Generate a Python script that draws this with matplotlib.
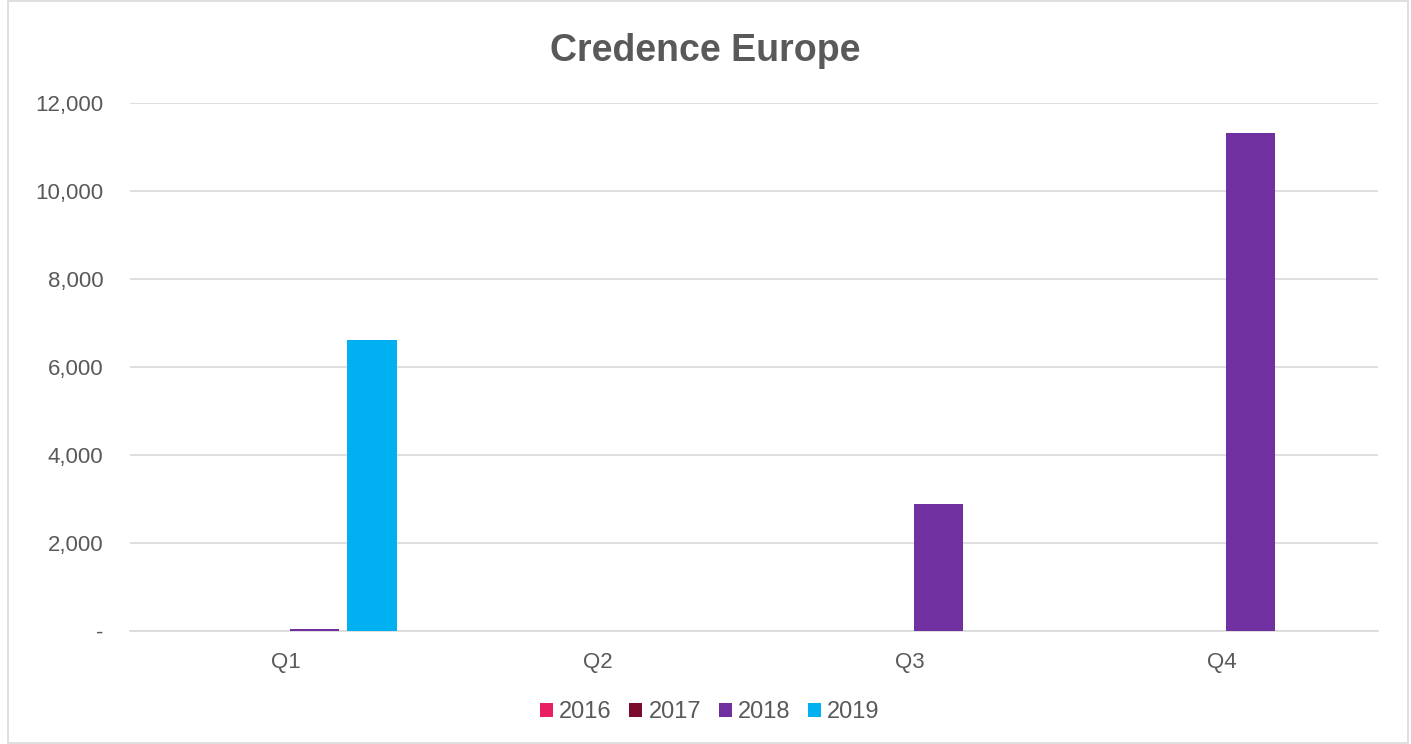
import numpy as np
import matplotlib.pyplot as plt
from matplotlib.ticker import FuncFormatter
from matplotlib.patches import Rectangle

# --- Chart data ---
quarters = ["Q1", "Q2", "Q3", "Q4"]
years = ["2016", "2017", "2018", "2019"]
v2016 = [0, 0, 0, 0]
v2017 = [0, 0, 0, 0]
v2018 = [40, 10, 2890, 11320]
v2019 = [6610, 0, 0, 0]
colors = ["#E91E63", "#7B0C2E", "#7030A0", "#00B0F0"]

plt.rcParams["font.family"] = ["Liberation Sans", "DejaVu Sans"]
text_gray = "#595959"

fig = plt.figure(figsize=(14.11, 7.44), dpi=100)
ax = fig.add_axes([0.0921, 0.1519, 0.8845, 0.7097])

# frame around the whole chart
fig.patches.append(Rectangle((0.006, 0.002), 0.992, 0.996, transform=fig.transFigure,
                             fill=False, edgecolor="#D9D9D9", linewidth=1.2))

x = np.arange(len(quarters))
width = 0.16
step = 0.183
series = [v2016, v2017, v2018, v2019]
for i, (vals, col, yr) in enumerate(zip(series, colors, years)):
    offset = (i - 1.5) * step
    ax.bar(x + offset, vals, width=width, color=col, label=yr, zorder=3)

ax.set_xlim(-0.5, 3.5)
ax.set_ylim(0, 12000)
ax.set_yticks(range(0, 12001, 2000))
ax.yaxis.set_major_formatter(FuncFormatter(lambda v, p: "-" if v == 0 else f"{v:,.0f}"))
ax.set_xticks(x)
ax.set_xticklabels(quarters)

ax.grid(axis="y", color="#D9D9D9", linewidth=1.2, zorder=0)
for s in ["top", "right", "left"]:
    ax.spines[s].set_visible(False)
ax.spines["bottom"].set_color("#D9D9D9")
ax.spines["bottom"].set_linewidth(1.2)
ax.tick_params(axis="both", length=0, labelsize=16, colors=text_gray)
ax.tick_params(axis="x", pad=15)
ax.tick_params(axis="y", pad=19)

fig.text(0.5, 0.932, "Credence Europe", ha="center", va="center",
         fontsize=27, fontweight="bold", color=text_gray)

fig.legend(loc="center", bbox_to_anchor=(0.503, 0.043), ncol=4, frameon=False,
           fontsize=17, handlelength=0.55, handleheight=0.55, handletextpad=0.25,
           columnspacing=0.75, labelcolor=text_gray)

fig.savefig("out.png", dpi=100)
